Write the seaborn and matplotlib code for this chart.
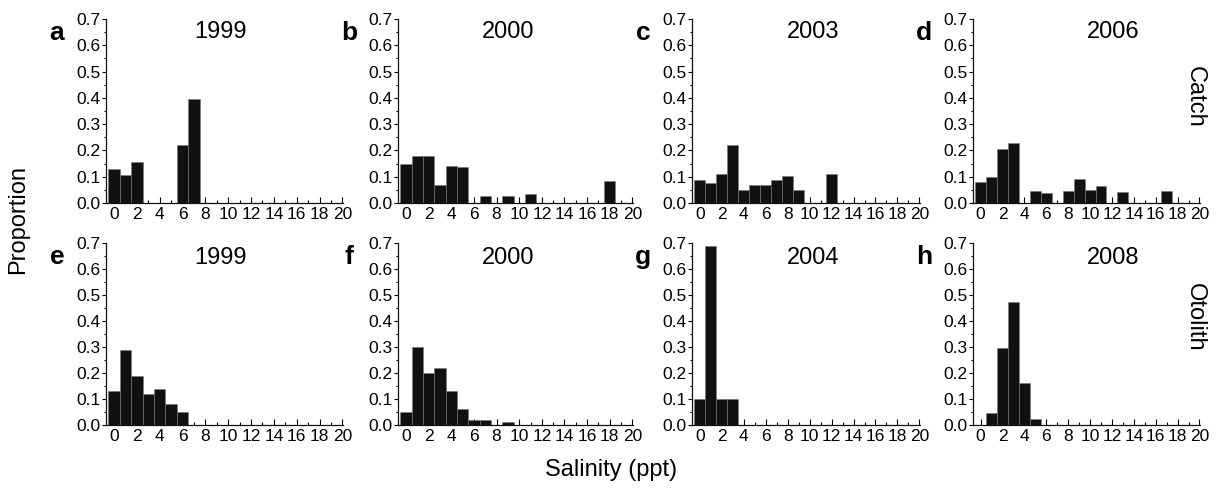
import numpy as np
import pandas as pd
import matplotlib
matplotlib.use("Agg")
import matplotlib.pyplot as plt
import seaborn as sns
from matplotlib.ticker import MultipleLocator, FormatStrFormatter

sns.set_theme(style="ticks")
plt.rcParams['font.family'] = ['Liberation Sans', 'DejaVu Sans']
plt.rcParams['text.color'] = 'black'
plt.rcParams['xtick.color'] = 'black'
plt.rcParams['ytick.color'] = 'black'

# salinity bins (ppt), bar centred on each integer
salinity = list(range(21))

# catch panels
catch_1999 = [0.13, 0.105, 0.155, 0, 0, 0, 0.22, 0.395, 0, 0, 0, 0, 0, 0, 0, 0, 0, 0, 0, 0, 0]
catch_2000 = [0.15, 0.18, 0.18, 0.07, 0.14, 0.137, 0, 0.027, 0, 0.025, 0, 0.035, 0, 0, 0, 0, 0, 0, 0.085, 0, 0]
catch_2003 = [0.088, 0.075, 0.11, 0.22, 0.05, 0.07, 0.068, 0.087, 0.103, 0.05, 0, 0, 0.11, 0, 0, 0, 0, 0, 0, 0, 0]
catch_2006 = [0.078, 0.1, 0.205, 0.23, 0, 0.045, 0.038, 0, 0.045, 0.09, 0.048, 0.063, 0, 0.042, 0, 0, 0, 0.047, 0, 0, 0]

# otolith panels
otolith_1999 = [0.13, 0.29, 0.19, 0.12, 0.14, 0.08, 0.05, 0, 0, 0, 0, 0, 0, 0, 0, 0, 0, 0, 0, 0, 0]
otolith_2000 = [0.05, 0.30, 0.20, 0.22, 0.13, 0.06, 0.02, 0.02, 0, 0.01, 0, 0, 0, 0, 0, 0, 0, 0, 0, 0, 0]
otolith_2004 = [0.10, 0.69, 0.10, 0.10, 0, 0, 0, 0, 0, 0, 0, 0, 0, 0, 0, 0, 0, 0, 0, 0, 0]
otolith_2008 = [0, 0.045, 0.295, 0.475, 0.16, 0.022, 0, 0, 0, 0, 0, 0, 0, 0, 0, 0, 0, 0, 0, 0, 0]

letters = ['a', 'b', 'c', 'd', 'e', 'f', 'g', 'h']
years = ['1999', '2000', '2003', '2006', '1999', '2000', '2004', '2008']
series = [catch_1999, catch_2000, catch_2003, catch_2006,
          otolith_1999, otolith_2000, otolith_2004, otolith_2008]

W, H = 1222, 488
fig = plt.figure(figsize=(W / 100, H / 100), dpi=100)

# pixel layout of the axes boxes
lefts = [106, 398, 692, 973]
rights = [343, 633, 920, 1200]
rows = [(19, 203), (243, 425)]
title_x = [220, 508, 813, 1113]
title_y = [32, 258]

for i, vals in enumerate(series):
    r, c = divmod(i, 4)
    top, bot = rows[r]
    ax = fig.add_axes([lefts[c] / W, 1 - bot / H, (rights[c] - lefts[c]) / W, (bot - top) / H])
    df = pd.DataFrame({'salinity': salinity, 'prop': vals})
    sns.histplot(data=df, x='salinity', weights='prop', discrete=True, ax=ax,
                 color='#111111', edgecolor='#777777', linewidth=0.4, alpha=1)
    ax.set_xlim(-0.7, 20.05)
    ax.set_ylim(0, 0.7)
    ax.xaxis.set_major_locator(MultipleLocator(2))
    ax.xaxis.set_minor_locator(MultipleLocator(1))
    ax.yaxis.set_major_locator(MultipleLocator(0.1))
    ax.yaxis.set_minor_locator(MultipleLocator(0.05))
    ax.yaxis.set_major_formatter(FormatStrFormatter('%.1f'))
    ax.tick_params(axis='x', which='major', direction='in', length=4, width=0.8, labelsize=12.5, pad=3)
    ax.tick_params(axis='x', which='minor', direction='in', length=2, width=0.8)
    ax.tick_params(axis='y', which='major', direction='out', length=3, width=0.8, labelsize=12.5, pad=1)
    ax.tick_params(axis='y', which='minor', direction='out', length=1.5, width=0.8)
    ax.set_xlabel('')
    ax.set_ylabel('')
    for s in ['top', 'right']:
        ax.spines[s].set_visible(False)
    for s in ['left', 'bottom']:
        ax.spines[s].set_linewidth(0.9)
        ax.spines[s].set_color('#111111')
    fig.text(title_x[c] / W, 1 - title_y[r] / H, years[i], fontsize=17,
             ha='center', va='center')
    fig.text((lefts[c] - 49) / W, 1 - (top + 14) / H, letters[i], fontsize=19,
             fontweight='bold', ha='center', va='center')

fig.text(1195 / W, 1 - 97 / H, 'Catch', fontsize=17, rotation=-90, ha='center', va='center')
fig.text(1195 / W, 1 - 317 / H, 'Otolith', fontsize=17, rotation=-90, ha='center', va='center')
fig.text(18 / W, 1 - 220 / H, 'Proportion', fontsize=17, rotation=90, ha='center', va='center')
fig.text(611 / W, 1 - 470 / H, 'Salinity (ppt)', fontsize=17, ha='center', va='center')

fig.savefig('out.png', dpi=100)
